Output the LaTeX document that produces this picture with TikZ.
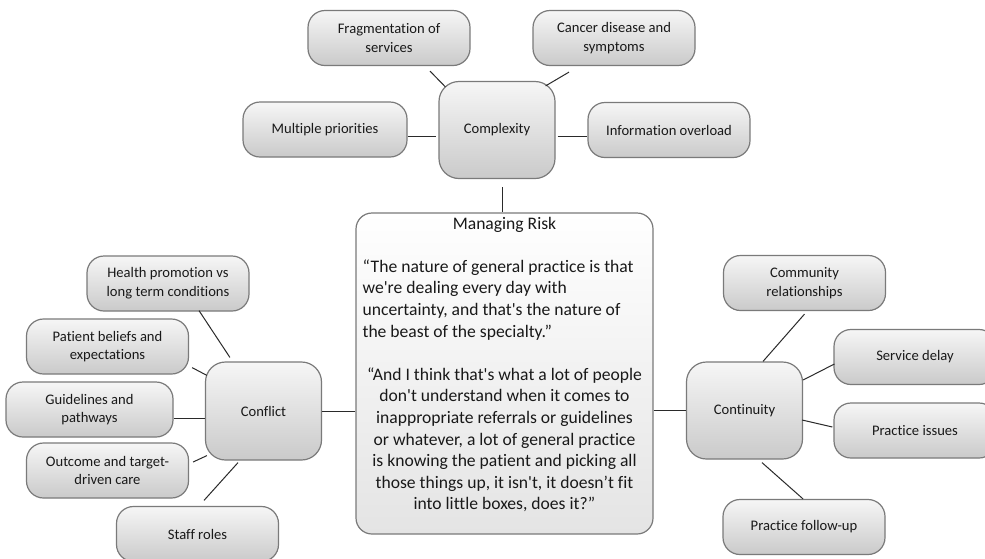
\documentclass[tikz,border=0pt]{standalone}
\usepackage{fontspec}
\setmainfont{Carlito}[Ligatures={TeX,NoCommon}]
\usetikzlibrary{calc}
\definecolor{bordergray}{HTML}{7A7A7A}
\definecolor{boxtop}{HTML}{F6F6F6}
\definecolor{boxbot}{HTML}{CACACA}
\definecolor{linecol}{HTML}{2A2A2A}
\definecolor{risktop}{HTML}{FFFFFF}
\definecolor{riskbot}{HTML}{E4E4E4}
\newcommand{\sq}{\textquotesingle}
\begin{document}
\begin{tikzpicture}[x=1pt,y=-1pt,
  box/.style={draw=bordergray, line width=1.2pt, rounded corners=17pt,
    top color=boxtop, bottom color=boxbot, align=center,
    font=\fontsize{14.6}{18.7}\selectfont, text=black!90,
    minimum width=162pt, minimum height=55pt, inner sep=0pt},
  hub/.style={box, minimum width=116pt, minimum height=97pt, rounded corners=20pt},
  riskbox/.style={draw=bordergray, line width=1.2pt, rounded corners=16pt,
    top color=risktop, bottom color=riskbot,
    minimum width=297pt, minimum height=321pt, inner sep=0pt},
  quote/.style={inner sep=0pt, font=\fontsize{17.6}{21.6}\selectfont, text=black!90},
  link/.style={draw=linecol, line width=1pt}]
\useasboundingbox (0,0) rectangle (985,558);
\clip (0,0) rectangle (985,558);
\fill[white] (0,0) rectangle (985,558);

% top group
\node[box] (frag) at (389,38) {Fragmentation of\\services};
\node[box] (cancer) at (614,38) {Cancer disease and\\symptoms};
\node[box, minimum width=164pt] (multi) at (325,129.5) {Multiple priorities};
\node[hub] (cplx) at (497,130) {Complexity};
\node[box] (info) at (669,130) {Information overload};

% central box
\node[riskbox] (risk) at (504.5,373.5) {};
\node[quote, anchor=north] (title) at ($(risk.north)+(0,4.5)$) {Managing Risk};
\node[quote, anchor=north west, align=left] (q1) at ($(risk.north west)+(7,47)$)
  {“The nature of general practice is that\\we\sq re dealing every day with\\uncertainty, and that\sq s the nature of\\the beast of the specialty.”};
\node[quote, anchor=north, align=center] (q2) at ($(risk.north)+(0,155)$)
  {“And I think that\sq s what a lot of people\\don\sq t understand when it comes to\\inappropriate referrals or guidelines\\or whatever, a lot of general practice\\is knowing the patient and picking all\\those things up, it isn\sq t, it doesn’t fit\\into little boxes, does it?”};

% left group
\node[hub, minimum height=98pt] (conflict) at (263.5,411) {Conflict};
\node[box] (health) at (168,283.5) {Health promotion vs\\long term conditions};
\node[box] (patient) at (107.5,346.5) {Patient beliefs and\\expectations};
\node[box, minimum width=167pt] (guide) at (89.5,409.5) {Guidelines and\\pathways};
\node[box] (outcome) at (107.5,470.5) {Outcome and target-\\driven care};
\node[box] (staff) at (197.5,534) {Staff roles};

% right group
\node[hub] (cont) at (744.5,410.5) {Continuity};
\node[box] (comm) at (804.5,283) {Community\\relationships};
\node[box] (sdelay) at (915,357) {Service delay};
\node[box] (pissues) at (915,430.5) {Practice issues};
\node[box] (pfollow) at (804,527) {Practice follow-up};

% connectors
\draw[link] ($(frag.south)+(41,5)$) -- ($(cplx.north west)+(7,6)$);
\draw[link] ($(cancer.south)+(-45,6)$) -- ($(cplx.north east)+(-10,5)$);
\draw[link] ($(multi.east)+(0,6.5)$) -- ($(cplx.west)+(-2,6)$);
\draw[link] ($(cplx.east)+(2,6)$) -- ($(info.west)+(0,6)$);
\draw[link] ($(cplx.south)+(5,8)$) -- ($(risk.north)+(-2.5,0)$);

\draw[link] (risk.west |- conflict.east) -- (conflict.east);
\draw[link] (risk.east |- cont.west) -- (cont.west);

\draw[link] ($(health.south)+(31,-1)$) -- ($(conflict.north west)+(25,-4)$);
\draw[link] ($(patient.south east)+(3,-7)$) -- ($(conflict.north west)+(2,14)$);
\draw[link] ($(guide.east)+(0,8.5)$) -- ($(conflict.west)+(0,7)$);
\draw[link] ($(outcome.east)+(4,-8.5)$) -- ($(conflict.south west)+(2,-5)$);
\draw[link] ($(staff.north)+(6.5,-5.5)$) -- ($(conflict.south)+(-25.5,2)$);

\draw[link] ($(comm.south)+(0,3)$) -- ($(cont.north)+(18.5,0)$);
\draw[link] ($(cont.east)+(0,-30.5)$) -- ($(sdelay.west)+(1,7)$);
\draw[link] ($(cont.east)+(-1,9.5)$) -- ($(pissues.west)+(-1,-3.5)$);
\draw[link] ($(cont.south)+(17.5,3)$) -- ($(pfollow.north)+(-1,0)$);
\end{tikzpicture}
\end{document}
